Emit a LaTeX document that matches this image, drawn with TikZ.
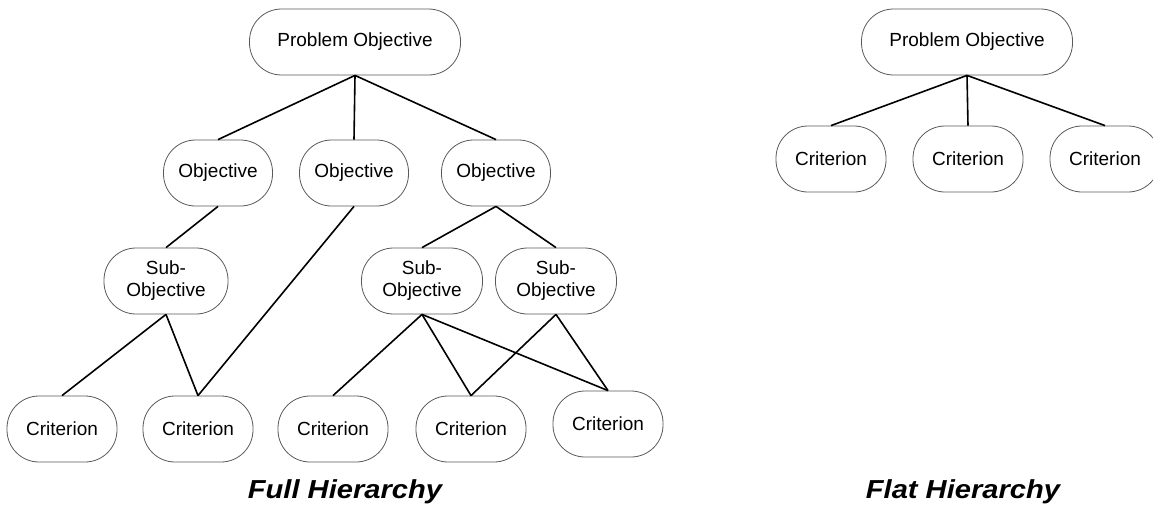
\documentclass[tikz,border=0pt]{standalone}
\usepackage{fontspec}
\setmainfont{Liberation Sans}
\usepackage{tikz}
\usetikzlibrary{arrows.meta}

\begin{document}
\begin{tikzpicture}[x=1pt,y=-1pt]
        \useasboundingbox (0,0) rectangle (1153,506);

        \begin{scope}[every node/.style = {draw=black!65, line width=0.8pt, rounded corners=32pt,
                                           minimum height=66pt, align=center, inner sep=0pt,
                                           font=\fontsize{19pt}{22pt}\selectfont}]
            % full hierarchy
            \node[minimum width=211pt] (P) at (355, 42)   {Problem Objective};

            \node[minimum width=109pt] (O1) at (218,173)  {Objective};
            \node[minimum width=109pt] (O2) at (354,173)  {Objective};
            \node[minimum width=109pt] (O3) at (496,173)  {Objective};

            \node[minimum width=124pt] (S1) at (166,281)  {Sub-\\Objective};
            \node[minimum width=121pt] (S2) at (422,281)  {Sub-\\Objective};
            \node[minimum width=121pt] (S3) at (556,281)  {Sub-\\Objective};

            \node[minimum width=110pt] (C1) at (62, 429)  {Criterion};
            \node[minimum width=110pt] (C2) at (198,429)  {Criterion};
            \node[minimum width=110pt] (C3) at (333,429)  {Criterion};
            \node[minimum width=110pt] (C4) at (471,429)  {Criterion};
            \node[minimum width=110pt] (C5) at (608,424)  {Criterion};

            % flat hierarchy
            \node[minimum width=211pt] (FP) at (967, 42)  {Problem Objective};

            \node[minimum width=110pt] (FA) at (831,159)  {Criterion};
            \node[minimum width=110pt] (FB) at (968,159)  {Criterion};
            \node[minimum width=110pt] (FC) at (1105,159) {Criterion};
        \end{scope}

        \node[anchor=base, xscale=1.12] (full) at (345,498) {\fontsize{26pt}{30pt}\selectfont\bfseries\itshape Full Hierarchy};
        \node[anchor=base, xscale=1.12] (flat) at (963,498) {\fontsize{26pt}{30pt}\selectfont\bfseries\itshape Flat Hierarchy};

        \begin{scope}[every edge/.style={draw=black, line width=1.6pt}]
            \path (P.south) edge (O1.north);
            \path (P.south) edge (O2.north);
            \path (P.south) edge (O3.north);

            \path (O1.south) edge (S1.north);
            \path (O2.south) edge (C2.north);
            \path (O3.south) edge (S2.north);
            \path (O3.south) edge (S3.north);

            \path (S1.south) edge (C1.north);
            \path (S1.south) edge (C2.north);

            \path (S2.south) edge (C3.north);
            \path (S2.south) edge (C4.north);
            \path (S2.south) edge (C5.north);
            \path (S3.south) edge (C4.north);
            \path (S3.south) edge (C5.north);

            \path (FP.south) edge (FA.north);
            \path (FP.south) edge (FB.north);
            \path (FP.south) edge (FC.north);
        \end{scope}
    \end{tikzpicture}
\end{document}
